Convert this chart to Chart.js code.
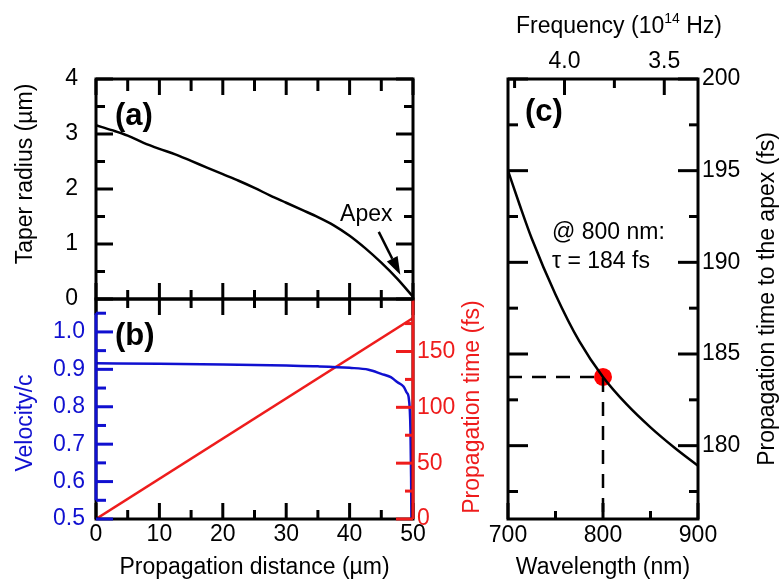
<!DOCTYPE html>
<html>
<head>
<meta charset="utf-8">
<script src="https://cdn.jsdelivr.net/npm/chart.js@4.4.1/dist/chart.umd.min.js"></script>
<style>
  html, body { margin: 0; padding: 0; background: #fff; }
  #wrap { position: relative; width: 782px; height: 588px; }
  #wrap canvas { position: absolute; left: 0; top: 0; }
</style>
</head>
<body>
<div id="wrap">
  <canvas id="chartB" width="782" height="588"></canvas>
  <canvas id="chartA" width="782" height="588"></canvas>
  <canvas id="chartC" width="782" height="588"></canvas>
</div>
<script>
// (a) taper radius vs propagation distance
var distA = [0, 2.5, 5, 7.5, 10, 12.5, 15, 17.5, 20, 22.5, 25, 27.5, 30, 32.5, 35, 37.5, 40, 42.5, 45, 47.5, 50];
var radius = [3.16, 3.07, 2.97, 2.84, 2.73, 2.63, 2.51, 2.39, 2.27, 2.15, 2.02, 1.88, 1.75, 1.62, 1.49, 1.34, 1.15, 0.92, 0.66, 0.37, 0.04];

// (b) group velocity and propagation time
var distB = [0, 10, 20, 30, 35, 40, 43, 45, 46.5, 47.5, 48.5, 49, 49.3, 49.5, 49.6, 49.7, 49.75];
var velocity = [0.916, 0.915, 0.913, 0.910, 0.908, 0.904, 0.899, 0.888, 0.879, 0.866, 0.854, 0.838, 0.827, 0.790, 0.738, 0.613, 0.5];
var distT = [0, 50];
var propTime = [0, 180];

// (c) propagation time to the apex vs wavelength
var wavelength = [700, 712.5, 725, 750, 775, 800, 825, 850, 875, 900];
var tau = [195.0, 193.1, 191.3, 188.25, 185.7, 183.75, 182.25, 181.0, 179.9, 178.9];
var markWl = [800];
var markTau = [183.75];
var guideWl = [700, 800, 800];
var guideTau = [183.75, 183.75, 176];

// tick values
var distMajor = [0, 10, 20, 30, 40, 50];
var distMinor = [5, 15, 25, 35, 45];
var radMajor = [0, 1, 2, 3, 4];
var radMinor = [0.5, 1.5, 2.5, 3.5];
var velMajor = [0.5, 0.6, 0.7, 0.8, 0.9, 1.0];
var velMinor = [0.55, 0.65, 0.75, 0.85, 0.95, 1.05];
var timeMajor = [0, 50, 100, 150];
var timeMinor = [25, 75, 125, 175];
var wlMajor = [700, 800, 900];
var wlMinor = [750, 850];
var freqMajor = [4.0, 3.5];
var freqMinor = [4.25, 3.75];
var tauMajor = [180, 185, 190, 195, 200];
var tauMinor = [177.5, 182.5, 187.5, 192.5, 197.5];

var BLUE = '#1010d0';
var RED = '#ee1c1c';
var FONT = "'Liberation Sans', Arial, sans-serif";

Chart.defaults.font.family = FONT;
Chart.defaults.font.size = 23;
Chart.defaults.color = '#000';
Chart.defaults.animation = false;

function pts(xs, ys) {
  return xs.map(function(x, i) { return {x: x, y: ys[i]}; });
}

// frame box with ticks pointing inwards
var frameTicks = {
  id: 'frameTicks',
  afterDatasetsDraw: function(chart, args, opts) {
    var ctx = chart.ctx, a = chart.chartArea;
    ctx.save();
    ctx.lineWidth = 3;
    ctx.strokeStyle = '#000';
    ctx.strokeRect(a.left, a.top, a.right - a.left, a.bottom - a.top);
    (opts.edges || []).forEach(function(e) {
      var s = chart.scales[e.scale];
      ctx.strokeStyle = e.color || '#000';
      if (e.line) {
        var lx = e.side === 'left' ? a.left : a.right;
        ctx.beginPath();
        ctx.moveTo(lx, s.getPixelForValue(e.line[0]));
        ctx.lineTo(lx, s.getPixelForValue(e.line[1]));
        ctx.stroke();
      }
      var draw = function(vals, len) {
        vals.forEach(function(v) {
          var p = s.getPixelForValue(v);
          ctx.beginPath();
          if (e.side === 'bottom') { ctx.moveTo(p, a.bottom); ctx.lineTo(p, a.bottom - len); }
          else if (e.side === 'top') { ctx.moveTo(p, a.top); ctx.lineTo(p, a.top + len); }
          else if (e.side === 'left') { ctx.moveTo(a.left, p); ctx.lineTo(a.left + len, p); }
          else { ctx.moveTo(a.right, p); ctx.lineTo(a.right - len, p); }
          ctx.stroke();
        });
      };
      draw(e.major || [], e.majorLen || 17);
      draw(e.minor || [], e.minorLen || 9);
    });
    ctx.restore();
  }
};

// text labels, vertical axis titles and the apex arrow
var notes = {
  id: 'notes',
  afterDatasetsDraw: function(chart, args, opts) {
    var ctx = chart.ctx;
    ctx.save();
    ctx.textBaseline = 'middle';
    (opts.items || []).forEach(function(t) {
      var x = chart.scales[t.xs].getPixelForValue(t.x);
      var y = chart.scales[t.ys].getPixelForValue(t.y);
      ctx.font = t.font || ('23px ' + FONT);
      ctx.fillStyle = t.color || '#000';
      ctx.textAlign = t.align || 'left';
      ctx.fillText(t.text, x, y);
    });
    (opts.vtitles || []).forEach(function(t) {
      var s = chart.scales[t.scale];
      ctx.save();
      ctx.translate(s.left + t.dx, (s.top + s.bottom) / 2 + t.dy);
      ctx.rotate(-Math.PI / 2);
      ctx.font = '23px ' + FONT;
      ctx.fillStyle = t.color || '#000';
      ctx.textAlign = 'center';
      ctx.fillText(t.text, 0, 0);
      ctx.restore();
    });
    if (opts.arrow) {
      var r = opts.arrow;
      var x1 = chart.scales.x.getPixelForValue(r.from[0]), y1 = chart.scales.y.getPixelForValue(r.from[1]);
      var x2 = chart.scales.x.getPixelForValue(r.to[0]), y2 = chart.scales.y.getPixelForValue(r.to[1]);
      var ang = Math.atan2(y2 - y1, x2 - x1), hl = 18, hw = 6;
      var bx = x2 - hl * Math.cos(ang), by = y2 - hl * Math.sin(ang);
      ctx.strokeStyle = '#000';
      ctx.lineWidth = 2.5;
      ctx.beginPath(); ctx.moveTo(x1, y1); ctx.lineTo(bx, by); ctx.stroke();
      ctx.fillStyle = '#000';
      ctx.beginPath();
      ctx.moveTo(x2, y2);
      ctx.lineTo(bx + hw * Math.sin(ang), by - hw * Math.cos(ang));
      ctx.lineTo(bx - hw * Math.sin(ang), by + hw * Math.cos(ang));
      ctx.closePath(); ctx.fill();
    }
    if (opts.supTitle) {
      var st = opts.supTitle;
      var cx = chart.scales.x.getPixelForValue(st.x), cy = chart.scales.xf.top + st.dy;
      ctx.fillStyle = '#000';
      ctx.textAlign = 'left';
      ctx.font = '23px ' + FONT;
      var w1 = ctx.measureText(st.parts[0]).width, w3 = ctx.measureText(st.parts[2]).width;
      ctx.font = '14px ' + FONT;
      var w2 = ctx.measureText(st.parts[1]).width;
      var sx = cx - (w1 + w2 + w3) / 2;
      ctx.font = '23px ' + FONT;
      ctx.fillText(st.parts[0], sx, cy);
      ctx.font = '14px ' + FONT;
      ctx.fillText(st.parts[1], sx + w1, cy - 8);
      ctx.font = '23px ' + FONT;
      ctx.fillText(st.parts[2], sx + w1 + w2, cy);
    }
    ctx.restore();
  }
};

var noGrid = {display: false, drawTicks: false};
var noBorder = {display: false};

// panel (a)
new Chart(document.getElementById('chartA'), {
  type: 'line',
  data: {
    datasets: [{
      data: pts(distA, radius),
      borderColor: '#000', borderWidth: 2.5, pointRadius: 0, cubicInterpolationMode: 'monotone'
    }]
  },
  options: {
    responsive: false, events: [],
    layout: {padding: {left: 0, top: 79, right: 369, bottom: 289}},
    plugins: {
      legend: {display: false}, tooltip: {enabled: false},
      frameTicks: {edges: [
        {scale: 'x', side: 'bottom', major: distMajor, minor: distMinor, majorLen: 16, minorLen: 9},
        {scale: 'x', side: 'top', major: distMajor, minor: distMinor, majorLen: 16, minorLen: 12},
        {scale: 'y', side: 'left', major: radMajor, minor: radMinor, majorLen: 17, minorLen: 9},
        {scale: 'y', side: 'right', major: radMajor, minor: radMinor, majorLen: 17, minorLen: 9}
      ]},
      notes: {
        items: [
          {text: '(a)', x: 3, y: 3.31, xs: 'x', ys: 'y', font: 'bold 31px ' + FONT},
          {text: 'Apex', x: 38.5, y: 1.53, xs: 'x', ys: 'y'}
        ],
        vtitles: [{text: 'Taper radius (µm)', scale: 'y', dx: 26, dy: -15}],
        arrow: {from: [44.6, 1.22], to: [48.0, 0.44]}
      }
    },
    scales: {
      x: {type: 'linear', min: 0, max: 50, display: false},
      y: {
        type: 'linear', position: 'left', min: 0, max: 4,
        grid: noGrid, border: noBorder,
        ticks: {stepSize: 1, padding: 18},
        afterFit: function(s) { s.width = 96; }
      }
    }
  },
  plugins: [frameTicks, notes]
});

// panel (b)
new Chart(document.getElementById('chartB'), {
  type: 'line',
  data: {
    datasets: [
      {
        data: pts(distB, velocity), yAxisID: 'yv',
        borderColor: BLUE, borderWidth: 2.5, pointRadius: 0, cubicInterpolationMode: 'monotone'
      },
      {
        data: pts(distT, propTime), yAxisID: 'yt',
        borderColor: RED, borderWidth: 2.5, pointRadius: 0
      }
    ]
  },
  options: {
    responsive: false, events: [],
    layout: {padding: {left: 0, top: 299, right: 295, bottom: 0}},
    plugins: {
      legend: {display: false}, tooltip: {enabled: false},
      frameTicks: {edges: [
        {scale: 'x', side: 'bottom', major: distMajor, minor: distMinor, majorLen: 16, minorLen: 9},
        {scale: 'x', side: 'top', major: distMajor, minor: distMinor, majorLen: 16, minorLen: 9},
        {scale: 'yv', side: 'left', major: velMajor, minor: velMinor, majorLen: 17, minorLen: 10, color: BLUE, line: [0.55, 1.05]},
        {scale: 'yt', side: 'right', major: timeMajor, minor: timeMinor, majorLen: 17, minorLen: 8, color: RED, line: [0, 197]}
      ]},
      notes: {
        items: [
          {text: '(b)', x: 3, y: 0.989, xs: 'x', ys: 'yv', font: 'bold 31px ' + FONT}
        ],
        vtitles: [
          {text: 'Velocity/c', scale: 'yv', dx: 26, dy: 14, color: BLUE},
          {text: 'Propagation time (fs)', scale: 'yt', dx: 60, dy: -2, color: RED}
        ]
      }
    },
    scales: {
      x: {
        type: 'linear', position: 'bottom', min: 0, max: 50,
        grid: noGrid, border: noBorder,
        ticks: {stepSize: 10, padding: 2},
        title: {display: true, text: 'Propagation distance (µm)', padding: {top: 0, bottom: 7}},
        afterFit: function(s) { s.height = 69; }
      },
      yv: {
        type: 'linear', position: 'left', min: 0.5, max: 1.088,
        grid: noGrid, border: noBorder,
        ticks: {stepSize: 0.1, includeBounds: false, padding: 11, color: BLUE,
          callback: function(v) { return v.toFixed(1); }},
        afterFit: function(s) { s.width = 96; }
      },
      yt: {
        type: 'linear', position: 'right', min: 0, max: 197,
        grid: noGrid, border: noBorder,
        ticks: {stepSize: 50, includeBounds: false, padding: 4, color: RED},
        afterFit: function(s) { s.width = 74; }
      }
    }
  },
  plugins: [frameTicks, notes]
});

// panel (c)
new Chart(document.getElementById('chartC'), {
  type: 'line',
  data: {
    datasets: [
      {
        data: pts(wavelength, tau),
        borderColor: '#000', borderWidth: 2.5, pointRadius: 0, cubicInterpolationMode: 'monotone'
      },
      {
        data: pts(guideWl, guideTau),
        borderColor: '#000', borderWidth: 2.5, borderDash: [14, 10], pointRadius: 0
      },
      {
        data: pts(markWl, markTau), showLine: false,
        pointRadius: 9, pointBackgroundColor: '#ff0000', pointBorderWidth: 0
      }
    ]
  },
  options: {
    responsive: false, events: [],
    layout: {padding: {left: 508, top: 0, right: 0, bottom: 0}},
    plugins: {
      legend: {display: false}, tooltip: {enabled: false},
      frameTicks: {edges: [
        {scale: 'x', side: 'bottom', major: wlMajor, minor: wlMinor, majorLen: 16, minorLen: 8},
        {scale: 'xf', side: 'top', major: freqMajor, minor: freqMinor, majorLen: 16, minorLen: 9},
        {scale: 'y', side: 'left', major: tauMajor, minor: tauMinor, majorLen: 20, minorLen: 10},
        {scale: 'y', side: 'right', major: tauMajor, minor: tauMinor, majorLen: 20, minorLen: 9}
      ]},
      notes: {
        items: [
          {text: '(c)', x: 717.9, y: 198.2, xs: 'x', ys: 'y', font: 'bold 31px ' + FONT},
          {text: '@ 800 nm:', x: 746.3, y: 191.6, xs: 'x', ys: 'y'},
          {text: 'τ = 184 fs', x: 746.3, y: 190.05, xs: 'x', ys: 'y'}
        ],
        vtitles: [{text: 'Propagation time to the apex (fs)', scale: 'y', dx: 70, dy: 0}],
        supTitle: {parts: ['Frequency (10', '14', ' Hz)'], x: 816.8, dy: 27}
      }
    },
    scales: {
      x: {
        type: 'linear', position: 'bottom', min: 700, max: 900,
        grid: noGrid, border: noBorder,
        ticks: {stepSize: 100, padding: 3},
        title: {display: true, text: 'Wavelength (nm)', padding: {top: 0, bottom: 7}},
        afterFit: function(s) { s.height = 69; }
      },
      xf: {
        type: 'linear', axis: 'x', position: 'top', reverse: true, min: 3.331, max: 4.283,
        grid: noGrid, border: noBorder,
        ticks: {stepSize: 0.5, includeBounds: false, padding: 4,
          callback: function(v) { return v.toFixed(1); }},
        afterFit: function(s) { s.height = 79; }
      },
      y: {
        type: 'linear', position: 'right', min: 176, max: 200,
        grid: noGrid, border: noBorder,
        ticks: {stepSize: 5, includeBounds: false, padding: 4},
        afterFit: function(s) { s.width = 84; }
      }
    }
  },
  plugins: [frameTicks, notes]
});
</script>
</body>
</html>
